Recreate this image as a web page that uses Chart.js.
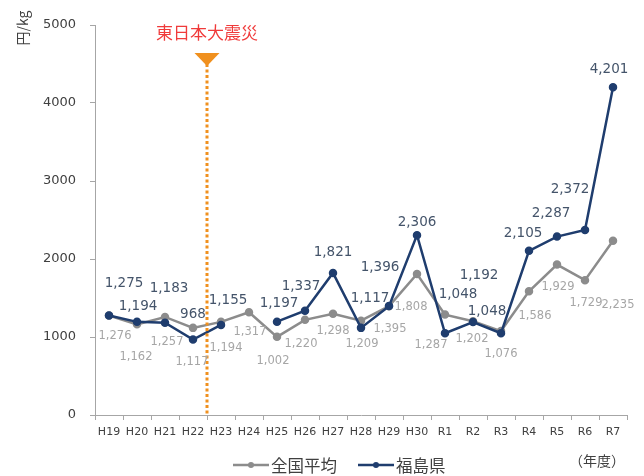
<!DOCTYPE html>
<html>
<head>
<meta charset="utf-8">
<script src="https://cdn.jsdelivr.net/npm/chart.js@4"></script>
<style>
  html, body { margin: 0; padding: 0; background: #fff; }
  #wrap { width: 644px; height: 476px; }
</style>
</head>
<body>
<div id="wrap"><canvas id="chart-price"></canvas></div>
<script>
// data
const years = ["H19", "H20", "H21", "H22", "H23", "H24", "H25", "H26", "H27", "H28",
               "H29", "H30", "R1", "R2", "R3", "R4", "R5", "R6", "R7"];
const national = [1276, 1162, 1257, 1117, 1194, 1317, 1002, 1220, 1298, 1209,
                  1395, 1808, 1287, 1202, 1076, 1586, 1929, 1729, 2235];
const fukushima = [1275, 1194, 1183, 968, 1155, null, 1197, 1337, 1821, 1117,
                   1396, 2306, 1048, 1192, 1048, 2105, 2287, 2372, 4201];
const yTicks = [0, 1000, 2000, 3000, 4000, 5000];

// label nudges (px) so the value labels sit like in the original
const fukuOffX = [15, 1, 4, 0, 7, 0, 2, -4, 0, 9, -9, 0, 13, 6, -14, -6, -6, -15, -4];
const fukuOffY = [-32, -15, -34, -25, -24, 0, -18, -24, -20, -29, -39, -13, -39, -47, -22, -17, -23, -40, -18];
const natOffX = [6, -1, 2, -1, 5, 1, -4, -4, 0, 1, 1, -6, -14, -1, 0, 6, 1, 1, 5];
const natOffY = [21, 33, 25, 34, 26, 20, 24, 24, 17, 23, 23, 33, 30, 18, 23, 25, 22, 23, 64];

const NAVY = '#1F3D6E';
const GRAY = '#8C8C8C';
const FONT = '"DejaVu Sans", Verdana, sans-serif';
const JP = '"Noto Sans CJK JP", sans-serif';

function fmt(v) {
    return v.toLocaleString('en-US');
}

const extras = {
    id: 'extras',
    afterDatasetsDraw(chart) {
        const ctx = chart.ctx;
        const x = chart.scales.x, y = chart.scales.y;
        const area = chart.chartArea;

        // earthquake marker between H22 and H23
        const qx = x.getPixelForValue(3.5);
        ctx.save();
        ctx.strokeStyle = '#F0901E';
        ctx.lineWidth = 3;
        ctx.setLineDash([3, 2.5]);
        ctx.beginPath();
        ctx.moveTo(qx, 64);
        ctx.lineTo(qx, area.bottom);
        ctx.stroke();
        ctx.setLineDash([]);
        ctx.fillStyle = '#F0901E';
        ctx.beginPath();
        ctx.moveTo(qx - 12.5, 53);
        ctx.lineTo(qx + 12.5, 53);
        ctx.lineTo(qx, 66);
        ctx.closePath();
        ctx.fill();
        ctx.fillStyle = '#F03A3A';
        ctx.font = '17px ' + JP;
        ctx.textAlign = 'center';
        ctx.textBaseline = 'middle';
        ctx.fillText('東日本大震災', qx, 33);

        // value labels
        ctx.font = '11.5px ' + FONT;
        ctx.fillStyle = '#A6A6A6';
        national.forEach((v, i) => {
            if (v == null) return;
            ctx.fillText(fmt(v), x.getPixelForValue(i) + natOffX[i], y.getPixelForValue(v) + natOffY[i]);
        });
        ctx.font = '13.5px ' + FONT;
        ctx.fillStyle = '#44546A';
        fukushima.forEach((v, i) => {
            if (v == null) return;
            ctx.fillText(fmt(v), x.getPixelForValue(i) + fukuOffX[i], y.getPixelForValue(v) + fukuOffY[i]);
        });

        // y unit
        ctx.save();
        ctx.translate(23, 28);
        ctx.rotate(-Math.PI / 2);
        ctx.fillStyle = '#404040';
        ctx.font = '14px ' + JP;
        ctx.fillText('円/kg', 0, 0);
        ctx.restore();

        // x unit
        ctx.fillStyle = '#404040';
        ctx.font = '14px ' + JP;
        ctx.fillText('（年度）', 597, 461);

        // legend
        const items = [
            { x: 233, text: '全国平均', color: GRAY },
            { x: 358, text: '福島県', color: NAVY }
        ];
        items.forEach(it => {
            ctx.strokeStyle = it.color;
            ctx.lineWidth = 2.5;
            ctx.beginPath();
            ctx.moveTo(it.x, 465);
            ctx.lineTo(it.x + 36, 465);
            ctx.stroke();
            ctx.fillStyle = it.color;
            ctx.beginPath();
            ctx.arc(it.x + 18, 465, 3, 0, Math.PI * 2);
            ctx.fill();
            ctx.fillStyle = '#404040';
            ctx.font = '16.5px ' + JP;
            ctx.textAlign = 'left';
            ctx.fillText(it.text, it.x + 38, 466);
        });
        ctx.restore();
    }
};

const ctx = document.getElementById('chart-price').getContext('2d');

new Chart(ctx, {
    type: 'line',
    data: {
        labels: years,
        datasets: [{
            label: '全国平均',
            data: national,
            borderColor: GRAY,
            backgroundColor: GRAY,
            pointBackgroundColor: GRAY,
            pointBorderColor: GRAY,
            borderWidth: 2.5,
            pointRadius: 3,
            tension: 0,
            order: 1
        }, {
            label: '福島県',
            data: fukushima,
            borderColor: NAVY,
            backgroundColor: NAVY,
            pointBackgroundColor: NAVY,
            pointBorderColor: NAVY,
            borderWidth: 2.5,
            pointRadius: 3,
            tension: 0,
            spanGaps: false,
            order: 0
        }]
    },
    options: {
        responsive: true,
        maintainAspectRatio: false,
        animation: false,
        layout: {
            padding: { top: 25, right: 17, bottom: 0, left: 0 }
        },
        plugins: {
            legend: { display: false },
            tooltip: { enabled: false }
        },
        scales: {
            x: {
                offset: true,
                afterFit: s => { s.height = 61; },
                grid: {
                    offset: true,
                    drawOnChartArea: false,
                    drawTicks: true,
                    tickLength: 5,
                    color: '#A6A6A6'
                },
                border: { color: '#A6A6A6', width: 1 },
                ticks: {
                    color: '#404040',
                    padding: 6,
                    maxRotation: 0,
                    autoSkip: false,
                    font: { size: 11, family: FONT }
                }
            },
            y: {
                min: 0,
                max: 5000,
                afterFit: s => { s.width = 95; },
                afterBuildTicks: s => { s.ticks = yTicks.map(v => ({ value: v })); },
                grid: {
                    drawOnChartArea: false,
                    drawTicks: true,
                    tickLength: 5,
                    color: '#A6A6A6'
                },
                border: { color: '#A6A6A6', width: 1 },
                ticks: {
                    color: '#404040',
                    padding: 14,
                    callback: v => String(v),
                    font: { size: 13, family: FONT }
                }
            }
        }
    },
    plugins: [extras]
});
</script>
</body>
</html>
